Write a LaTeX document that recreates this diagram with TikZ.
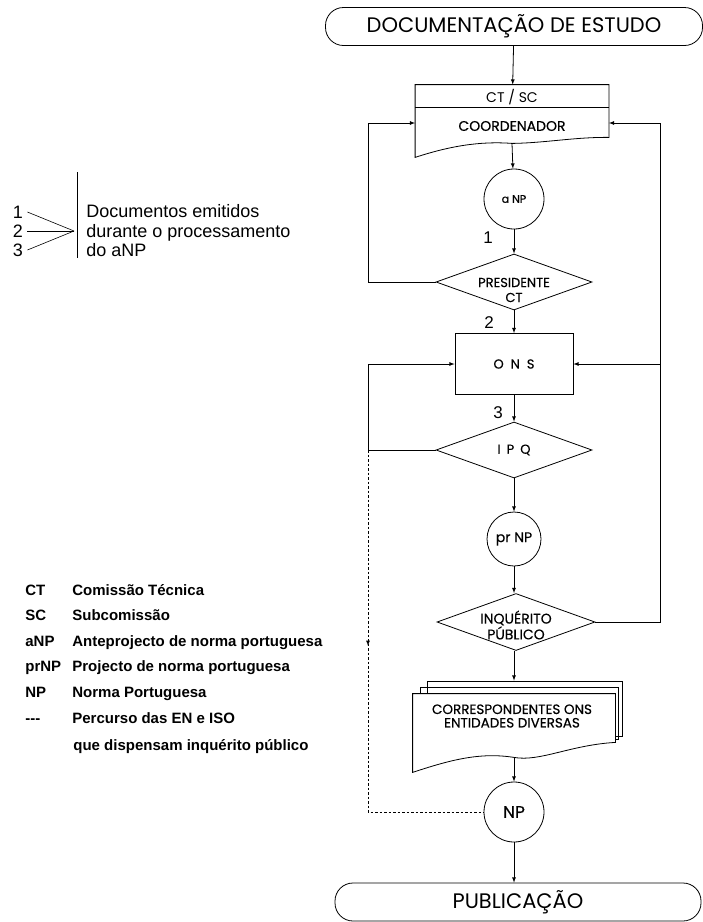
\documentclass[tikz,border=0pt]{standalone}
\usepackage{fontspec}
\setmainfont{Liberation Sans}
\newfontfamily\flowfont{Poppins}
\newfontfamily\flowbold[FakeBold=0.4]{Poppins}
\usetikzlibrary{shapes,calc,decorations.markings}

\begin{document}
\begin{tikzpicture}[x=1pt,y=-1pt,>=latex,line width=0.8pt]
		\tikzset{term/.style={draw,rectangle,rounded corners=18pt,minimum width=#1,minimum height=38pt,inner sep=0pt,font=\flowfont\fontsize{21}{21}\selectfont}};
		\tikzset{bubble/.style={draw,circle,minimum size=#1,inner sep=0pt}};
		\tikzset{decision/.style={draw,diamond,minimum width=156pt,minimum height=56pt,inner sep=0pt,align=center}};
		\tikzset{box/.style={minimum width=#1,inner sep=0pt}};
		\tikzset{fl/.style={font=\flowbold\fontsize{#1}{#1}\selectfont,inner sep=0pt}};
		\tikzset{tag/.style={font=\fontsize{17}{17}\selectfont,inner sep=0pt}};
		\tikzset{key/.style={font=\bfseries\fontsize{15}{15}\selectfont,inner sep=0pt,anchor=base west}};
		\tikzset{->-/.style={decoration={
					markings,
					mark=at position #1 with {\arrow{>}}},postaction={decorate}}}
		
		\useasboundingbox (0,0) rectangle (703,922);
		
		% flow column
		\node[term=377pt] (doc) at (514,26.5) {DOCUMENTAÇÃO DE ESTUDO};
		
		\node[box=193pt,minimum height=58pt] (coord) at (512,114) {};
		\draw (coord.north west) -- (coord.north east) -- ([yshift=6pt]coord.south east)
			.. controls (575,137) and (545,143) .. (coord.south)
			.. controls (480,141) and (450,146) .. ([yshift=-14pt]coord.south west) -- cycle;
		\draw ([yshift=7pt]coord.west) -- ([yshift=7pt]coord.east);
		\node[font=\flowfont\fontsize{14}{14}\selectfont,inner sep=0pt] (ctsc) at (512,97) {CT / SC};
		\node[fl=14] (coordtxt) at (512,126) {COORDENADOR};
		
		\node[bubble=60pt,fl=11] (anp) at (514,199) {a NP};
		\node[decision] (pres) at (514,282) {};
		\node[align=center,font=\flowbold\fontsize{13}{15}\selectfont,inner sep=0pt] (prestxt) at (514,290) {PRESIDENTE\\CT};
		\node[draw,minimum width=118pt,minimum height=61pt,fl=13] (ons) at (514,364) {O\hspace{7pt}N\hspace{7pt}S};
		\node[decision,fl=13] (ipq) at (514,450) {I\hspace{6pt}P\hspace{6pt}Q};
		\node[bubble=54pt,fl=14] (prnp) at (514,539) {pr NP};
		\node[decision,minimum width=158pt,minimum height=57pt] (inq) at (516,622) {};
		\node[align=center,font=\flowbold\fontsize{14}{14}\selectfont,inner sep=0pt] (inqtxt) at (516,625) {INQUÉRITO\\PÚBLICO};
		
		\node[box=202pt,minimum height=63pt] (corr) at (514,725.5) {};
		\draw (427,694) -- (427,681) -- (622,681) -- (622,736) -- (615,736);
		\draw (420,694) -- (420,687) -- (618,687) -- (618,739) -- (615,739);
		\draw (corr.north west) -- (corr.north east) -- ([yshift=15pt]corr.south east)
			.. controls (570,745) and (540,762) .. (corr.south)
			.. controls (480,752) and (450,760) .. ([yshift=-15pt]corr.south west) -- cycle;
		\node[align=center,font=\flowbold\fontsize{13.5}{13.5}\selectfont,inner sep=0pt] (corrtxt) at (512,716) {CORRESPONDENTES ONS\\ENTIDADES DIVERSAS};
		
		\node[bubble=60pt,fl=17] (np) at (514,812) {NP};
		\node[term=366pt] (pub) at (518,902) {PUBLICAÇÃO};
		
		\draw[->] (doc) -- (coord);
		\draw[->] (coord.south) -- (anp);
		\draw[->] (anp) -- (pres);
		\draw[->] (pres) -- (ons);
		\draw[->] (ons) -- (ipq);
		\draw[->] (ipq) -- (prnp);
		\draw[->] (prnp) -- (prnp |- inq.north);
		\draw[->] (inq.south -| corr) -- ([yshift=13pt]corr.north);
		\draw[->] (corr.south) -- (np);
		\draw[->] (np) -- (np |- pub.north);
		
		\node[tag] (n1) at (488,238) {1};
		\node[tag] (n2) at (489,323) {2};
		\node[tag] (n3) at (498,413) {3};
		
		% loops
		\coordinate (lx) at (368,0);
		\coordinate (rx) at (660,0);
		\draw[->] (pres.west) -- (pres.west -| lx) |- ([yshift=-9pt]coord.west);
		\draw[->] (ipq.west) -- (ipq.west -| lx) |- (ons.west);
		\draw[->] (inq.east) -- (inq.east -| rx) |- ([yshift=-9pt]coord.east);
		\draw[->] (ons.east -| rx) -- (ons.east);
		\draw[dash pattern=on 2.5pt off 2pt,->-=0.41] (ipq.west -| lx) |- (np.west);
		
		% legend
		\node[font=\fontsize{18}{18}\selectfont,inner sep=4pt] (d1) at (18,212) {1};
		\node[font=\fontsize{18}{18}\selectfont,inner sep=4pt] (d2) at (18,231) {2};
		\node[font=\fontsize{18}{18}\selectfont,inner sep=4pt] (d3) at (18,250) {3};
		\coordinate (conv) at (74,231);
		\draw[line width=0.6pt] (d1.east) -- (conv);
		\draw[line width=0.6pt] (d2.east) -- (conv);
		\draw[line width=0.6pt] (d3.east) -- (conv);
		\draw[line width=0.6pt] (77,172) -- (77,258);
		\node[anchor=west,align=left,font=\fontsize{18}{19.5}\selectfont,inner sep=0pt] (docs) at (86,231) {Documentos emitidos\\durante o processamento\\do aNP};
		
		\foreach \ab/\de [count=\i from 0] in {CT/Comissão Técnica,SC/Subcomissão,aNP/Anteprojecto de norma portuguesa,prNP/Projecto de norma portuguesa,NP/Norma Portuguesa,-{}-{}-/Percurso das EN e ISO}
		{
			\node[key] (ab\i) at (25,595+25.6*\i) {\ab};
			\node[key] (de\i) at (72,595+25.6*\i) {\de};
		}
		\node[key] (de6) at (73,750) {que dispensam inquérito público};
\end{tikzpicture}
\end{document}
